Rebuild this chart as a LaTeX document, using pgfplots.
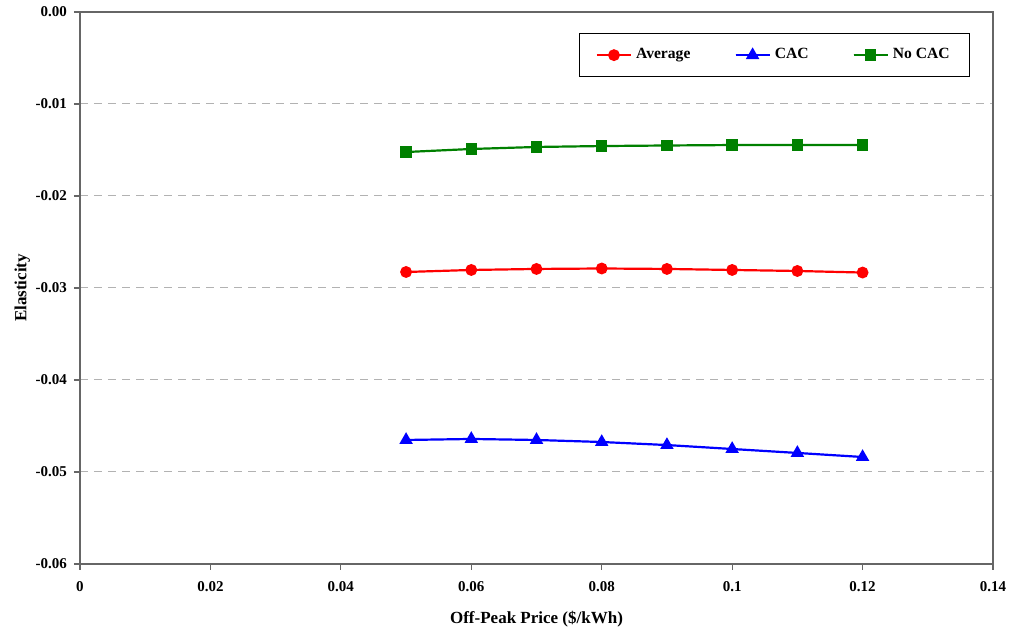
\documentclass[border=0pt]{standalone}
\usepackage{fontspec}
\setmainfont{Liberation Serif}
\usepackage{pgfplots}
\pgfplotsset{compat=1.18}
\definecolor{cred}{RGB}{255,0,0}
\definecolor{cblue}{RGB}{0,0,255}
\definecolor{cgreen}{RGB}{0,128,0}
\begin{document}
\begin{tikzpicture}
\begin{axis}[
  scale only axis,
  width=456.5pt, height=276pt,
  xmin=0, xmax=0.14, ymin=-0.06, ymax=0,
  xtick={0,0.02,0.04,0.06,0.08,0.1,0.12,0.14},
  ytick={-0.06,-0.05,-0.04,-0.03,-0.02,-0.01,0},
  scaled ticks=false,
  xticklabel style={/pgf/number format/fixed, /pgf/number format/precision=2},
  yticklabel style={/pgf/number format/fixed, /pgf/number format/fixed zerofill, /pgf/number format/precision=2},
  /pgf/number format/assume math mode=true,
  tick label style={font=\bfseries\fontsize{7.5}{8}\selectfont},
  xticklabel style={yshift=-2pt},
  axis line style={gray!80!black, line width=0.6pt},
  tick style={gray!80!black, line width=0.6pt},
  tick align=outside,
  major tick length=3pt,
  xtick pos=bottom, ytick pos=left,
  ymajorgrids,
  grid style={dashed, gray!60, line width=0.5pt, dash pattern=on 4pt off 3pt},
  xlabel={Off-Peak Price (\$/kWh)},
  ylabel={Elasticity},
  label style={font=\bfseries\fontsize{8.5}{9}\selectfont},
  xlabel style={yshift=-3pt},
  ylabel style={yshift=-4pt},
  legend columns=3,
  legend style={at={(axis description cs:0.975,0.962)}, anchor=north east,
    draw=black, line width=0.5pt, font=\bfseries\fontsize{7.8}{9}\selectfont,
    inner xsep=8pt, inner ysep=5.5pt,
    /tikz/every odd column/.append style={column sep=0pt},
    /tikz/every even column/.append style={column sep=20pt}},
  legend image code/.code={\draw[#1] (0cm,0cm) -- (0.6cm,0cm); \draw[#1, mark repeat=2, mark phase=2] plot coordinates {(0cm,0cm) (0.3cm,0cm) (0.6cm,0cm)};},
]
\coordinate (sw) at (rel axis cs:0,0);
\coordinate (ne) at (rel axis cs:1,1);
\addplot[cred, line width=1.1pt, mark=*, mark size=2.4pt] coordinates {
(0.05,-0.02826) (0.06,-0.02804) (0.07,-0.02793) (0.08,-0.02788)
(0.09,-0.02793) (0.10,-0.02804) (0.11,-0.02815) (0.12,-0.02832)};
\addlegendentry{Average}
\addplot[cblue, line width=1.1pt, mark=triangle*, mark size=2.8pt] coordinates {
(0.05,-0.04652) (0.06,-0.04641) (0.07,-0.04652) (0.08,-0.04674)
(0.09,-0.04707) (0.10,-0.04750) (0.11,-0.04793) (0.12,-0.04837)};
\addlegendentry{CAC}
\addplot[cgreen, line width=1.1pt, mark=square*, mark size=2.3pt] coordinates {
(0.05,-0.01522) (0.06,-0.01489) (0.07,-0.01467) (0.08,-0.01457)
(0.09,-0.01451) (0.10,-0.01446) (0.11,-0.01446) (0.12,-0.01446)};
\addlegendentry{No CAC}
\end{axis}
\pgfresetboundingbox
\path (sw) ++(-40pt,-33pt) coordinate (bl);
\path (ne) ++(8.5pt,6pt) coordinate (tr);
\path[use as bounding box] (bl) rectangle (tr);
\end{tikzpicture}
\end{document}
